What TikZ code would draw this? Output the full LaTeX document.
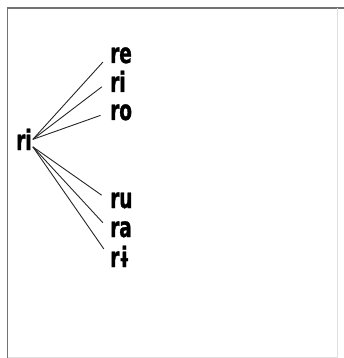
\documentclass[tikz,border=0pt]{standalone}
\usepackage{fontspec}
\setmainfont{DejaVu Sans}[FakeStretch=0.66, BoldFeatures={FakeBold=1.2}]

\begin{document}
\begin{tikzpicture}[x=1pt,y=-1pt,
  syl/.style={font=\bfseries\fontsize{28}{28}\selectfont, inner sep=1pt, anchor=base west},
  branch/.style={line width=0.9pt, black!85, shorten >=9pt}]
\useasboundingbox (0,0) rectangle (344,358);
% Drawing frame
\draw[line width=1.8pt, black!55] (7.5,358) -- (7.5,8) -- (344,8);
\draw[line width=0.4pt, black!12] (337,8) -- (337,357) -- (7.5,357);

% Drawing syllables
\node[syl] (root) at (15,150) {ri};
\node[syl] (re) at (109,63) {re};
\node[syl] (ri) at (109,92) {ri};
\node[syl] (ro) at (109,120) {ro};
\node[syl] (ru) at (109,208) {ru};
\node[syl] (ra) at (109,237) {ra};
\node[syl] (rbar) at (109,267) {rɨ};

% Drawing branches
\foreach \s in {re,ri,ro}
  \draw[branch] (root.east) -- (\s.west);
\foreach \s in {ru,ra,rbar}
  \draw[branch] (root.-40) -- (\s.west);
\end{tikzpicture}
\end{document}
